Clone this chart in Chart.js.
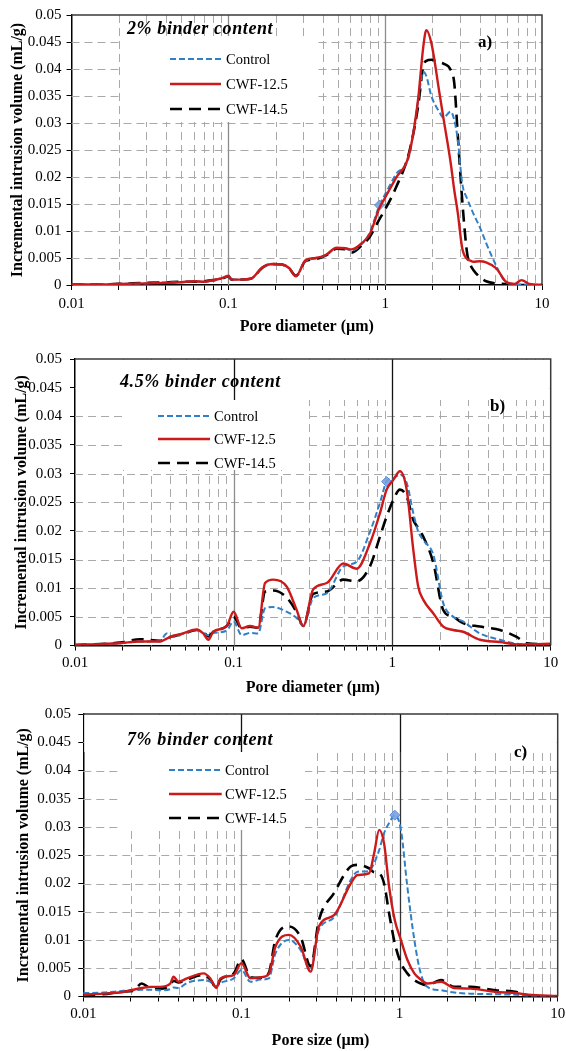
<!DOCTYPE html>
<html>
<head>
<meta charset="utf-8">
<script src="https://cdn.jsdelivr.net/npm/chart.js@4.4.1/dist/chart.umd.min.js"></script>
<style>
  html, body { margin: 0; background: #fff; }
  body { position: relative; width: 566px; height: 1051px; overflow: hidden; }
  canvas { position: absolute; left: 0; }
</style>
</head>
<body>
<canvas id="chartA" width="566" height="345" style="top:0px"></canvas>
<canvas id="chartB" width="566" height="360" style="top:345px"></canvas>
<canvas id="chartC" width="566" height="346" style="top:705px"></canvas>
<script>
// ---- data (pore diameter in µm, incremental intrusion in mL/g) ----
const seriesNames = ["Control", "CWF-12.5", "CWF-14.5"];
const panelTitles = ["2% binder content", "4.5% binder content", "7% binder content"];
const panelTags = ["a)", "b)", "c)"];
const xAxisTitles = ["Pore diameter (µm)", "Pore diameter (µm)", "Pore size (µm)"];
const yAxisTitle = "Incremental intrusion volume (mL/g)";
const xDecadeLabels = [0.01, 0.1, 1, 10];
const yMax = 0.05;
const yStep = 0.005;

// a) 2% binder
const poreA = [0.01, 0.015, 0.02, 0.03, 0.04, 0.05, 0.06, 0.07, 0.08, 0.09, 0.1, 0.105, 0.12, 0.14, 0.165, 0.19, 0.22, 0.245, 0.27, 0.31, 0.36, 0.42, 0.49, 0.56, 0.61, 0.72, 0.8, 0.92, 1, 1.17, 1.42, 1.62, 1.75, 1.83, 1.97, 2.22, 2.35, 2.62, 2.76, 2.9, 3.1, 3.33, 3.5, 3.65, 4.0, 4.4, 5.1, 5.9, 6.7, 7.4, 8.3, 10];
const controlA = [0.0001, 0.0001, 0.0002, 0.0003, 0.0005, 0.0005, 0.0007, 0.0006, 0.0009, 0.0012, 0.0016, 0.001, 0.001, 0.0012, 0.0032, 0.0038, 0.0038, 0.0031, 0.0016, 0.0044, 0.0049, 0.0055, 0.0068, 0.0067, 0.0064, 0.0078, 0.0098, 0.0148, 0.0168, 0.0205, 0.0238, 0.034, 0.0395, 0.0387, 0.035, 0.032, 0.031, 0.0321, 0.0305, 0.027, 0.0188, 0.016, 0.0145, 0.0132, 0.0108, 0.0078, 0.0036, 0.0005, 0.0002, 0.0001, 0, 0];
const cwf125A = [0.0001, 0.0001, 0.0002, 0.0003, 0.0004, 0.0005, 0.0007, 0.0006, 0.0009, 0.0012, 0.0017, 0.001, 0.001, 0.0012, 0.0033, 0.0039, 0.0038, 0.0031, 0.0016, 0.0046, 0.005, 0.0056, 0.0069, 0.0068, 0.0066, 0.0079, 0.0095, 0.0143, 0.0162, 0.0198, 0.0242, 0.0343, 0.0441, 0.0472, 0.0448, 0.0355, 0.031, 0.0225, 0.0175, 0.0135, 0.0068, 0.0048, 0.0045, 0.0043, 0.0044, 0.0042, 0.0031, 0.0006, 0.0002, 0.0009, 0.0002, 0];
const cwf145A = [0.0001, 0.0001, 0.0002, 0.0004, 0.0005, 0.0006, 0.0006, 0.0007, 0.0009, 0.0011, 0.0016, 0.001, 0.001, 0.0012, 0.0032, 0.0039, 0.0038, 0.003, 0.0017, 0.0044, 0.0048, 0.0055, 0.0067, 0.0066, 0.006, 0.0075, 0.009, 0.0122, 0.014, 0.018, 0.0245, 0.033, 0.0405, 0.0415, 0.0417, 0.0412, 0.041, 0.0398, 0.0373, 0.028, 0.0157, 0.0059, 0.0037, 0.0028, 0.0015, 0.0007, 0.0003, 0.0002, 0, 0, 0, 0];
const markerPoreA = 0.92;

// b) 4.5% binder
const poreB = [0.01, 0.0192, 0.0257, 0.0344, 0.0379, 0.0417, 0.048, 0.0585, 0.0644, 0.0693, 0.0745, 0.0906, 0.1, 0.1125, 0.127, 0.143, 0.158, 0.178, 0.216, 0.25, 0.275, 0.318, 0.387, 0.492, 0.597, 0.724, 0.838, 0.923, 1.017, 1.12, 1.235, 1.36, 1.46, 1.57, 1.82, 2.1, 2.43, 2.8, 3.58, 4.79, 6.1, 7.05, 10];
const controlB = [0.0001, 0.0004, 0.0007, 0.0008, 0.0021, 0.0015, 0.0021, 0.0027, 0.0022, 0.0018, 0.0022, 0.0026, 0.0042, 0.0018, 0.0022, 0.0021, 0.0065, 0.0067, 0.0059, 0.0048, 0.0034, 0.0083, 0.0091, 0.0138, 0.0146, 0.0198, 0.0249, 0.0286, 0.0292, 0.0298, 0.0284, 0.0231, 0.0199, 0.0184, 0.0158, 0.0074, 0.005, 0.0042, 0.0021, 0.001, 0.0003, 0.0002, 0.0002];
const cwf125B = [0.0001, 0.0004, 0.0007, 0.0007, 0.0012, 0.0017, 0.0021, 0.0028, 0.0021, 0.001, 0.0024, 0.0034, 0.0059, 0.003, 0.0034, 0.0031, 0.0109, 0.0115, 0.0103, 0.0062, 0.0034, 0.0098, 0.0109, 0.0143, 0.0134, 0.0178, 0.0231, 0.0272, 0.0289, 0.0304, 0.0272, 0.0167, 0.0103, 0.008, 0.0056, 0.0033, 0.0027, 0.0024, 0.001, 0.0006, 0.0002, 0.0002, 0.0003];
const cwf145B = [0.0001, 0.0005, 0.0011, 0.0008, 0.0013, 0.0016, 0.002, 0.0027, 0.0024, 0.0016, 0.0024, 0.0034, 0.005, 0.003, 0.0033, 0.0031, 0.0094, 0.0096, 0.0084, 0.0058, 0.0034, 0.009, 0.0094, 0.0115, 0.0112, 0.0138, 0.019, 0.0225, 0.0254, 0.0272, 0.026, 0.0219, 0.0205, 0.019, 0.0144, 0.0062, 0.005, 0.0039, 0.0033, 0.0027, 0.0015, 0.0004, 0.0002];
const markerPoreB = 0.923;

// c) 7% binder
const poreC = [0.01, 0.0134, 0.0179, 0.0207, 0.0234, 0.0265, 0.0306, 0.0355, 0.0372, 0.04, 0.0453, 0.0577, 0.0636, 0.0694, 0.0736, 0.0894, 0.1, 0.114, 0.132, 0.149, 0.164, 0.2, 0.237, 0.274, 0.309, 0.385, 0.491, 0.542, 0.641, 0.69, 0.743, 0.798, 0.859, 0.933, 1.02, 1.12, 1.24, 1.36, 1.5, 1.83, 2.22, 2.8, 4.05, 5.5, 6.5, 10];
const controlC = [0.0006, 0.0007, 0.001, 0.0011, 0.0012, 0.0012, 0.0011, 0.0013, 0.0016, 0.0015, 0.0024, 0.0029, 0.0026, 0.0018, 0.0024, 0.0032, 0.0047, 0.0026, 0.003, 0.0032, 0.0076, 0.01, 0.0082, 0.0047, 0.0118, 0.014, 0.0206, 0.0221, 0.0222, 0.0236, 0.0259, 0.0289, 0.0307, 0.0321, 0.0295, 0.0194, 0.01, 0.0041, 0.0017, 0.0011, 0.0007, 0.0005, 0.0004, 0.0003, 0.0001, 0];
const cwf125C = [0.0003, 0.0005, 0.0008, 0.0012, 0.0015, 0.0017, 0.0017, 0.0023, 0.0035, 0.0026, 0.0032, 0.0041, 0.0032, 0.0015, 0.0032, 0.0038, 0.0059, 0.0032, 0.0034, 0.004, 0.0088, 0.0109, 0.0088, 0.0044, 0.0124, 0.0144, 0.02, 0.0215, 0.0218, 0.0253, 0.0295, 0.0271, 0.0194, 0.0135, 0.01, 0.0065, 0.0041, 0.003, 0.0023, 0.0026, 0.0015, 0.0014, 0.0008, 0.0006, 0.0003, 0.0001];
const cwf145C = [0.0003, 0.0004, 0.0009, 0.001, 0.0023, 0.0015, 0.0014, 0.002, 0.0028, 0.0025, 0.003, 0.0038, 0.003, 0.0015, 0.003, 0.0041, 0.0066, 0.0034, 0.0033, 0.0042, 0.01, 0.0124, 0.0105, 0.0053, 0.0135, 0.0183, 0.023, 0.0233, 0.0227, 0.022, 0.0218, 0.02, 0.0147, 0.0094, 0.0059, 0.0041, 0.0029, 0.0023, 0.002, 0.0029, 0.0017, 0.0017, 0.0011, 0.0008, 0.0002, 0];
const markerPoreC = 0.933;

// ---- styling / layout (page pixels) ----
const SERIF = '"Liberation Serif", "Times New Roman", serif';
const SERIES_STYLE = [
  { color: "#2F80C6", width: 2, dash: [6, 3], order: 1 },
  { color: "#CC1A1A", width: 2.4, dash: [], order: 0 },
  { color: "#000000", width: 2.6, dash: [12, 7], order: 2 },
];
const TICK_LEN = 5;
const TICK_SIZE = 15;
const AXIS_TITLE_SIZE = 16;

const PANELS = [
  {
    id: "chartA", top: 0, height: 345,
    plot: { l: 71.5, r: 542, t: 15, b: 285 },
    pore: poreA, series: [controlA, cwf125A, cwf145A], marker: markerPoreA,
    title: [127, 29], tag: [478, 43],
    legend: { x0: 170, x1: 221, tx: 226, rows: [59, 84, 109] },
    box: [120, 36, 318, 122], band: null,
    tenthColor: "#8c8c8c", oneColor: "#8c8c8c",
    yTitleX: 18, yLabelRight: 61.5, xLabelY: 304, xTitleY: 327,
  },
  {
    id: "chartB", top: 345, height: 360,
    plot: { l: 75, r: 550.7, t: 359, b: 645.5 },
    pore: poreB, series: [controlB, cwf125B, cwf145B], marker: markerPoreB,
    title: [120, 382], tag: [490, 407],
    legend: { x0: 158, x1: 210, tx: 214, rows: [416, 439, 463] },
    box: [123, 400, 308, 470], band: 400,
    tenthColor: "#8c8c8c", oneColor: "#333333",
    yTitleX: 21.7, yLabelRight: 62, xLabelY: 663, xTitleY: 688,
  },
  {
    id: "chartC", top: 705, height: 346,
    plot: { l: 83.3, r: 557.7, t: 714, b: 996.5 },
    pore: poreC, series: [controlC, cwf125C, cwf145C], marker: markerPoreC,
    title: [127, 740], tag: [514, 753],
    legend: { x0: 169, x1: 221.7, tx: 225, rows: [770, 794, 818] },
    box: [120, 752, 305, 830], band: 752,
    tenthColor: "#8c8c8c", oneColor: "#333333",
    yTitleX: 23.5, yLabelRight: 71, xLabelY: 1014, xTitleY: 1041,
  },
];

const isDecade = (v) => Math.abs(Math.log10(v) - Math.round(Math.log10(v))) < 1e-9;

// grid, white boxes, frame, legend and in-plot labels
const paperPlugin = {
  id: "paper",
  beforeDatasetsDraw(chart) {
    const p = chart.options.plugins.paper.panel;
    const { ctx, chartArea: a, scales: { x, y } } = chart;
    const off = p.top;
    ctx.save();
    ctx.strokeStyle = "#a9a9a9";
    ctx.lineWidth = 1;
    ctx.setLineDash([8, 5]);
    ctx.beginPath();
    x.ticks.forEach((t) => {
      if (isDecade(t.value)) return;
      const px = Math.round(x.getPixelForValue(t.value)) + 0.5;
      ctx.moveTo(px, a.top);
      ctx.lineTo(px, a.bottom);
    });
    y.ticks.forEach((t) => {
      if (t.value <= 0 || t.value >= yMax - 1e-9) return;
      const py = Math.round(y.getPixelForValue(t.value)) + 0.5;
      ctx.moveTo(a.left, py);
      ctx.lineTo(a.right, py);
    });
    ctx.stroke();

    ctx.setLineDash([]);
    ctx.lineWidth = 1.3;
    [[0.1, p.tenthColor], [1, p.oneColor]].forEach(([v, c]) => {
      const px = Math.round(x.getPixelForValue(v)) + 0.5;
      ctx.strokeStyle = c;
      ctx.beginPath();
      ctx.moveTo(px, a.top);
      ctx.lineTo(px, a.bottom);
      ctx.stroke();
    });

    ctx.fillStyle = "#ffffff";
    if (p.band) {
      const bb = p.band - off;
      ctx.fillRect(a.left + 1, a.top + 1, a.right - a.left - 2, bb - a.top - 1);
      ctx.strokeStyle = "#111";
      [0.1, 1].forEach((v) => {
        const px = Math.round(x.getPixelForValue(v)) + 0.5;
        ctx.beginPath();
        ctx.moveTo(px, a.top);
        ctx.lineTo(px, bb);
        ctx.stroke();
      });
    }
    const [bx0, by0, bx1, by1] = p.box;
    ctx.fillRect(bx0, by0 - off, bx1 - bx0, by1 - by0);
    ctx.restore();
  },
  afterDatasetsDraw(chart) {
    const { ctx, chartArea: a } = chart;
    ctx.save();
    ctx.strokeStyle = "#3a3a3a";
    ctx.lineWidth = 1.5;
    ctx.beginPath();
    ctx.moveTo(a.left, a.top);
    ctx.lineTo(a.right, a.top);
    ctx.lineTo(a.right, a.bottom);
    ctx.stroke();
    ctx.restore();
  },
  afterDraw(chart) {
    const p = chart.options.plugins.paper.panel;
    const idx = chart.options.plugins.paper.index;
    const { ctx } = chart;
    const off = p.top;
    ctx.save();
    ctx.fillStyle = "#000";
    ctx.textBaseline = "middle";
    ctx.textAlign = "left";
    ctx.font = `italic bold 18px ${SERIF}`;
    ctx.letterSpacing = "0.6px";
    ctx.fillText(panelTitles[idx], p.title[0], p.title[1] - off);
    ctx.letterSpacing = "0px";
    ctx.font = `bold 17px ${SERIF}`;
    ctx.fillText(panelTags[idx], p.tag[0], p.tag[1] - off);

    ctx.font = `14.5px ${SERIF}`;
    chart.data.datasets.forEach((ds, i) => {
      const ry = p.legend.rows[i] - off;
      ctx.strokeStyle = ds.borderColor;
      ctx.lineWidth = ds.borderWidth;
      ctx.setLineDash(ds.borderDash);
      ctx.beginPath();
      ctx.moveTo(p.legend.x0, ry);
      ctx.lineTo(p.legend.x1, ry);
      ctx.stroke();
      ctx.fillText(ds.label, p.legend.tx, ry + 1);
    });
    ctx.restore();
  },
};

Chart.defaults.font.family = SERIF;
Chart.defaults.color = "#000";

PANELS.forEach((p, idx) => {
  const bottom = p.top + p.height;
  const tickLH = TICK_SIZE * 1.2;
  const titleLH = AXIS_TITLE_SIZE * 1.2;
  const datasets = seriesNames.map((name, i) => ({
    label: name,
    data: p.pore.map((d, k) => ({ x: d, y: p.series[i][k] })),
    borderColor: SERIES_STYLE[i].color,
    borderWidth: SERIES_STYLE[i].width,
    borderDash: SERIES_STYLE[i].dash,
    order: SERIES_STYLE[i].order,
    fill: false,
    cubicInterpolationMode: "monotone",
    pointStyle: "rectRot",
    pointRadius: i === 0 ? (c) => (c.raw && c.raw.x === p.marker ? 5 : 0) : 0,
    pointBackgroundColor: "rgba(120,160,225,0.9)",
    pointBorderColor: "#5b8fd6",
    pointBorderWidth: 1,
  }));

  new Chart(document.getElementById(p.id), {
    type: "line",
    data: { datasets },
    plugins: [paperPlugin],
    options: {
      responsive: false,
      animation: false,
      events: [],
      layout: {
        padding: { left: 0, top: p.plot.t - p.top, right: 566 - p.plot.r, bottom: 0 },
      },
      plugins: {
        legend: { display: false },
        tooltip: { enabled: false },
        paper: { panel: p, index: idx },
      },
      scales: {
        x: {
          type: "logarithmic",
          position: "bottom",
          min: 0.01,
          max: 10,
          afterBuildTicks: (scale) => {
            const ticks = [];
            for (let e = -2; e < 1; e++) {
              for (let m = 1; m < 10; m++) ticks.push({ value: +(m * Math.pow(10, e)).toPrecision(2) });
            }
            ticks.push({ value: 10 });
            scale.ticks = ticks;
          },
          afterFit: (scale) => {
            scale.height = bottom - p.plot.b;
            scale.paddingLeft = 0;
            scale.paddingRight = 0;
          },
          grid: { drawOnChartArea: false, drawTicks: true, tickLength: TICK_LEN, color: "#000", lineWidth: 1 },
          border: { display: true, color: "#000", width: 1.5 },
          ticks: {
            autoSkip: false,
            maxRotation: 0,
            minRotation: 0,
            padding: p.xLabelY - p.plot.b - TICK_LEN - tickLH / 2,
            font: { size: TICK_SIZE },
            color: "#000",
            callback: (v) => (xDecadeLabels.some((d) => Math.abs(d - v) < 1e-9) ? String(+v.toPrecision(1)) : ""),
          },
          title: {
            display: true,
            text: xAxisTitles[idx],
            font: { size: AXIS_TITLE_SIZE, weight: "bold" },
            color: "#000",
            padding: { top: 0, bottom: bottom - p.xTitleY - titleLH / 2 },
          },
        },
        y: {
          type: "linear",
          position: "left",
          min: 0,
          max: yMax,
          afterFit: (scale) => {
            scale.width = p.plot.l;
            scale.paddingTop = 0;
            scale.paddingBottom = 0;
          },
          grid: { drawOnChartArea: false, drawTicks: true, tickLength: TICK_LEN, color: "#000", lineWidth: 1 },
          border: { display: true, color: "#000", width: 1.5 },
          ticks: {
            stepSize: yStep,
            padding: p.plot.l - TICK_LEN - p.yLabelRight,
            font: { size: TICK_SIZE },
            color: "#000",
            callback: (v) => String(+Number(v).toFixed(3)),
          },
          title: {
            display: true,
            text: yAxisTitle,
            font: { size: AXIS_TITLE_SIZE, weight: "bold" },
            color: "#000",
            padding: { top: p.yTitleX - titleLH / 2, bottom: 0 },
          },
        },
      },
    },
  });
});
</script>
</body>
</html>
